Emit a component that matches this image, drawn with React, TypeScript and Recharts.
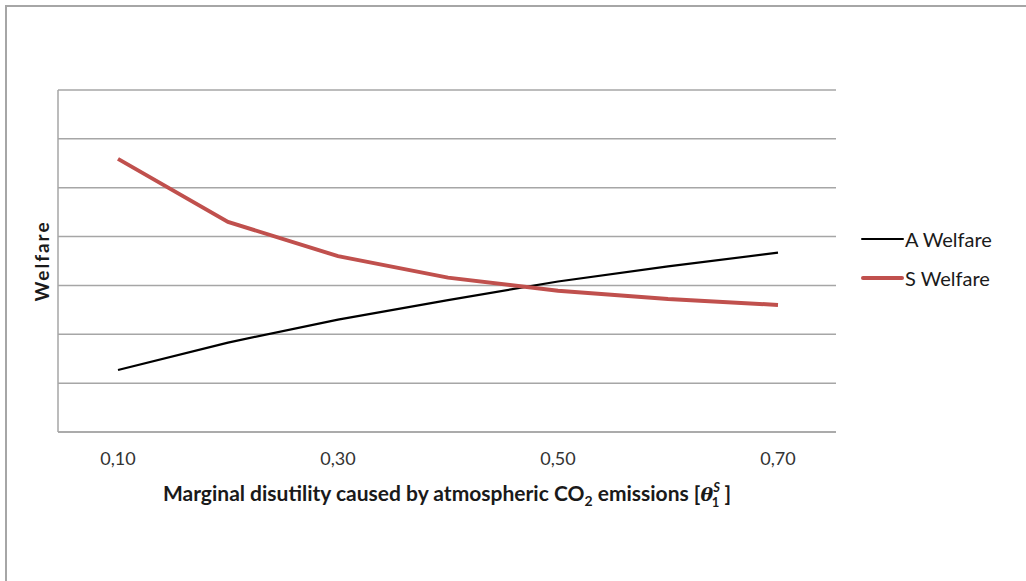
import { LineChart, Line, XAxis, YAxis, CartesianGrid, Label } from 'recharts';

const categories = ['0,10', '0,20', '0,30', '0,40', '0,50', '0,60', '0,70'];
const aWelfare = [1.27, 1.83, 2.3, 2.7, 3.08, 3.39, 3.67];
const sWelfare = [5.59, 4.3, 3.6, 3.16, 2.89, 2.72, 2.6];
const yTicks = [0, 1, 2, 3, 4, 5, 6, 7];

const data = categories.map((cat, i) => ({
    cat,
    a: aWelfare[i],
    s: sWelfare[i],
}));

const FONT = 'Lato, "Open Sans", sans-serif';
const GRID = '#a6a6a6';

const renderXTitle = (props: any) => {
    const vb = props.viewBox;
    const cx = vb.x + vb.width / 2;
    const y = vb.y + 69;
    return (
        <text x={cx} y={y} textAnchor="middle" fontFamily={FONT} fontWeight="bold" fontSize={21} fill="#1a1a1a">
            Marginal disutility caused by atmospheric CO
            <tspan fontSize={14} dy={5}>2</tspan>
            <tspan dy={-5}> emissions [</tspan>
            <tspan fontStyle="italic" fontFamily="DejaVu Serif" fontSize={19}>θ</tspan>
            <tspan fontSize={13} fontStyle="italic" dy={-9}>S</tspan>
            <tspan fontSize={13} dx={-8} dy={15}>1</tspan>
            <tspan dy={-6}> ]</tspan>
        </text>
    );
};

const legendItems = [
    { name: 'A Welfare', color: '#000000', width: 2 },
    { name: 'S Welfare', color: '#c0504d', width: 4 },
];

export default function App() {
    return (
        <div style={{ position: 'absolute', left: 0, top: 0, width: 1026, height: 581, overflow: 'hidden', background: '#fff' }}>
            <div
                style={{
                    position: 'absolute',
                    left: 5,
                    top: 5,
                    width: 1100,
                    height: 700,
                    borderLeft: '2px solid #a6a6a6',
                    borderTop: '2px solid #a6a6a6',
                }}
            />
            <LineChart
                width={1026}
                height={581}
                data={data}
                margin={{ top: 90, right: 190, left: 0, bottom: 69 }}
                style={{ position: 'absolute', left: 0, top: 0 }}
            >
                <CartesianGrid horizontal vertical={false} stroke={GRID} strokeWidth={1.5} />
                <XAxis
                    dataKey="cat"
                    interval={1}
                    height={80}
                    tickLine={false}
                    axisLine={{ stroke: GRID, strokeWidth: 1.5 }}
                    padding={{ left: 60, right: 58 }}
                    tickMargin={14}
                    tick={{ fill: '#333', fontSize: 18, fontFamily: FONT }}
                >
                    <Label content={renderXTitle} />
                </XAxis>
                <YAxis
                    width={58}
                    domain={[0, 7]}
                    ticks={yTicks}
                    tickFormatter={() => ''}
                    tickLine={false}
                    axisLine={{ stroke: GRID, strokeWidth: 1.5 }}
                    label={{
                        value: 'Welfare',
                        angle: -90,
                        position: 'center',
                        dx: 13,
                        style: { fontFamily: FONT, fontWeight: 'bold', fontSize: 19, fill: '#1a1a1a', letterSpacing: 2 },
                    }}
                />
                <Line name="A Welfare" dataKey="a" type="linear" stroke="#000" strokeWidth={2.2} dot={false} isAnimationActive={false} />
                <Line name="S Welfare" dataKey="s" type="linear" stroke="#c0504d" strokeWidth={4} dot={false} isAnimationActive={false} />
            </LineChart>
            <div style={{ position: 'absolute', left: 861, top: 219, fontFamily: FONT, fontSize: 20, color: '#1a1a1a' }}>
                {legendItems.map((it) => (
                    <div key={it.name} style={{ display: 'flex', alignItems: 'center', height: 39 }}>
                        <div style={{ width: 43, height: it.width, background: it.color, borderRadius: 2 }} />
                        <span style={{ marginLeft: 1 }}>{it.name}</span>
                    </div>
                ))}
            </div>
        </div>
    );
}
